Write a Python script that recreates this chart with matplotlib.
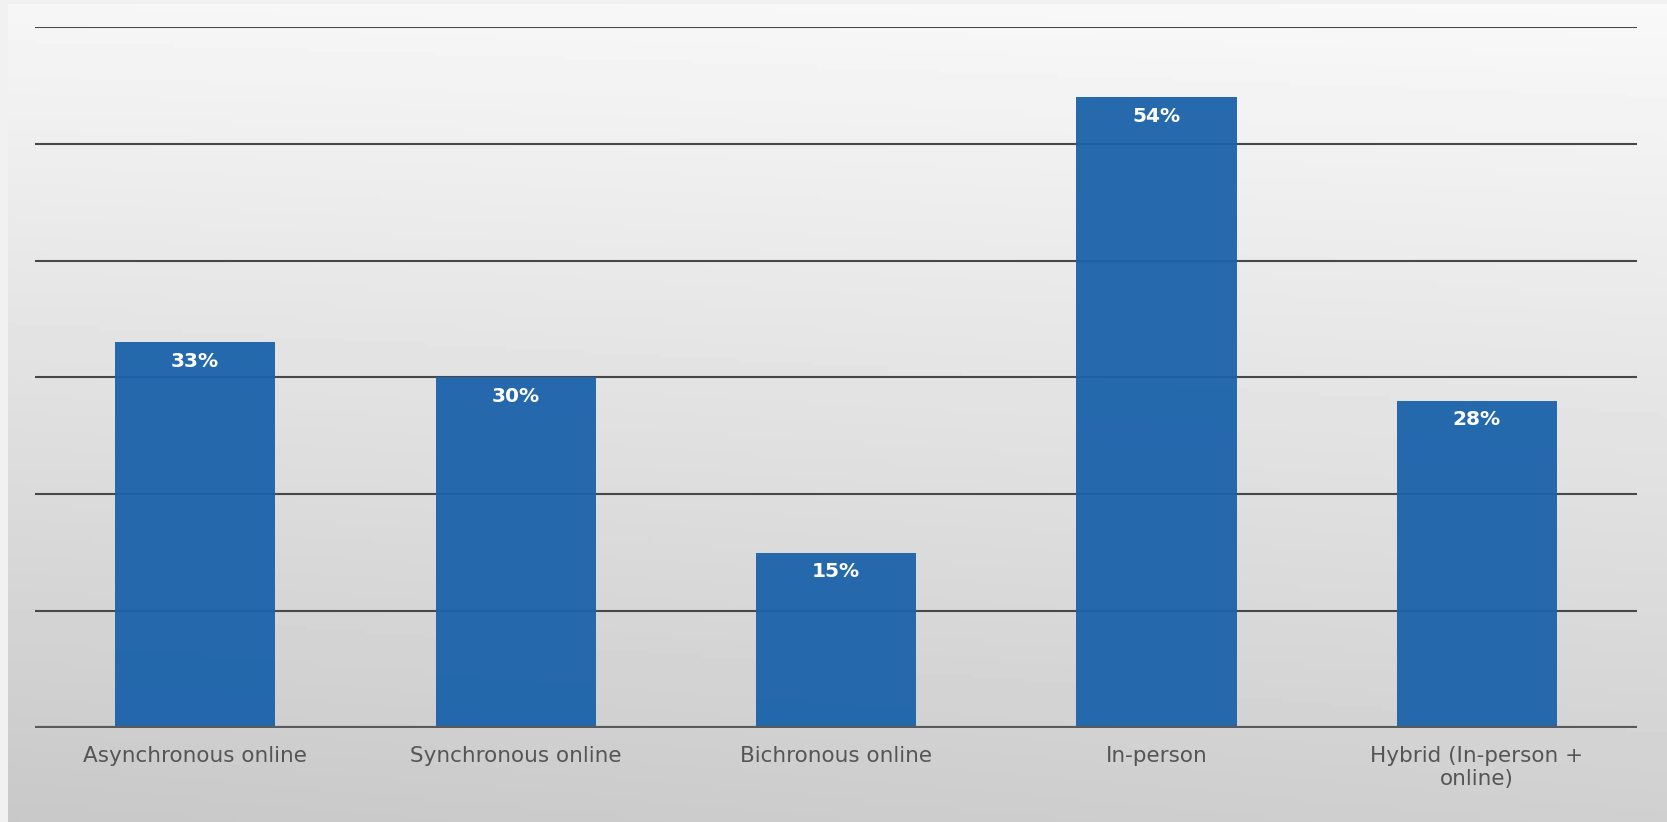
import numpy as np
import matplotlib.pyplot as plt

categories = ["Asynchronous online", "Synchronous online", "Bichronous online",
              "In-person", "Hybrid (In-person +\nonline)"]
values = [33, 30, 15, 54, 28]
value_labels = ["33%", "30%", "15%", "54%", "28%"]

W, H = 1667, 822
fig = plt.figure(figsize=(W / 100, H / 100), dpi=100, facecolor="#f1f1f1")

# gradient background panel
bg = fig.add_axes([8 / W, 0, 1 - 8 / W, 1 - 4 / H])
yy, xx = np.mgrid[0:1:200j, 0:1:400j]
shade = 0.965 - 0.15 * yy - 0.03 * (1 - xx) * yy + 0.01 * xx * (1 - yy)
bg.imshow(shade, cmap="gray", vmin=0, vmax=1, aspect="auto", origin="upper",
          extent=[0, 1, 0, 1])
bg.set_axis_off()

ax = fig.add_axes([35 / W, 1 - 728 / H, 1602 / W, 701 / H])
ax.patch.set_alpha(0)
x = np.arange(len(categories))
for yv in range(10, 61, 10):
    ax.axhline(yv, color="#484848", lw=1.5, zorder=1)
ax.bar(x, values, width=0.5, color="#1b62aa", alpha=0.95, lw=0, zorder=2)
ax.axhline(0, color="#5a5a5a", lw=3, zorder=4)

for xi, v, lab in zip(x, values, value_labels):
    ax.annotate(lab, (xi, v), xytext=(0, -19), textcoords="offset pixels",
                ha="center", va="center", color="white", fontsize=14.5,
                fontweight="bold", zorder=5)

ax.set_xlim(-0.5, 4.5)
ax.set_ylim(0, 60)
ax.set_xticks(x)
ax.set_xticklabels(categories, fontsize=15.5, color="#555555")
ax.tick_params(axis="x", length=0, pad=13)
ax.set_yticks([])
for s in ax.spines.values():
    s.set_visible(False)

fig.savefig("out.png", dpi=100, facecolor=fig.get_facecolor())
